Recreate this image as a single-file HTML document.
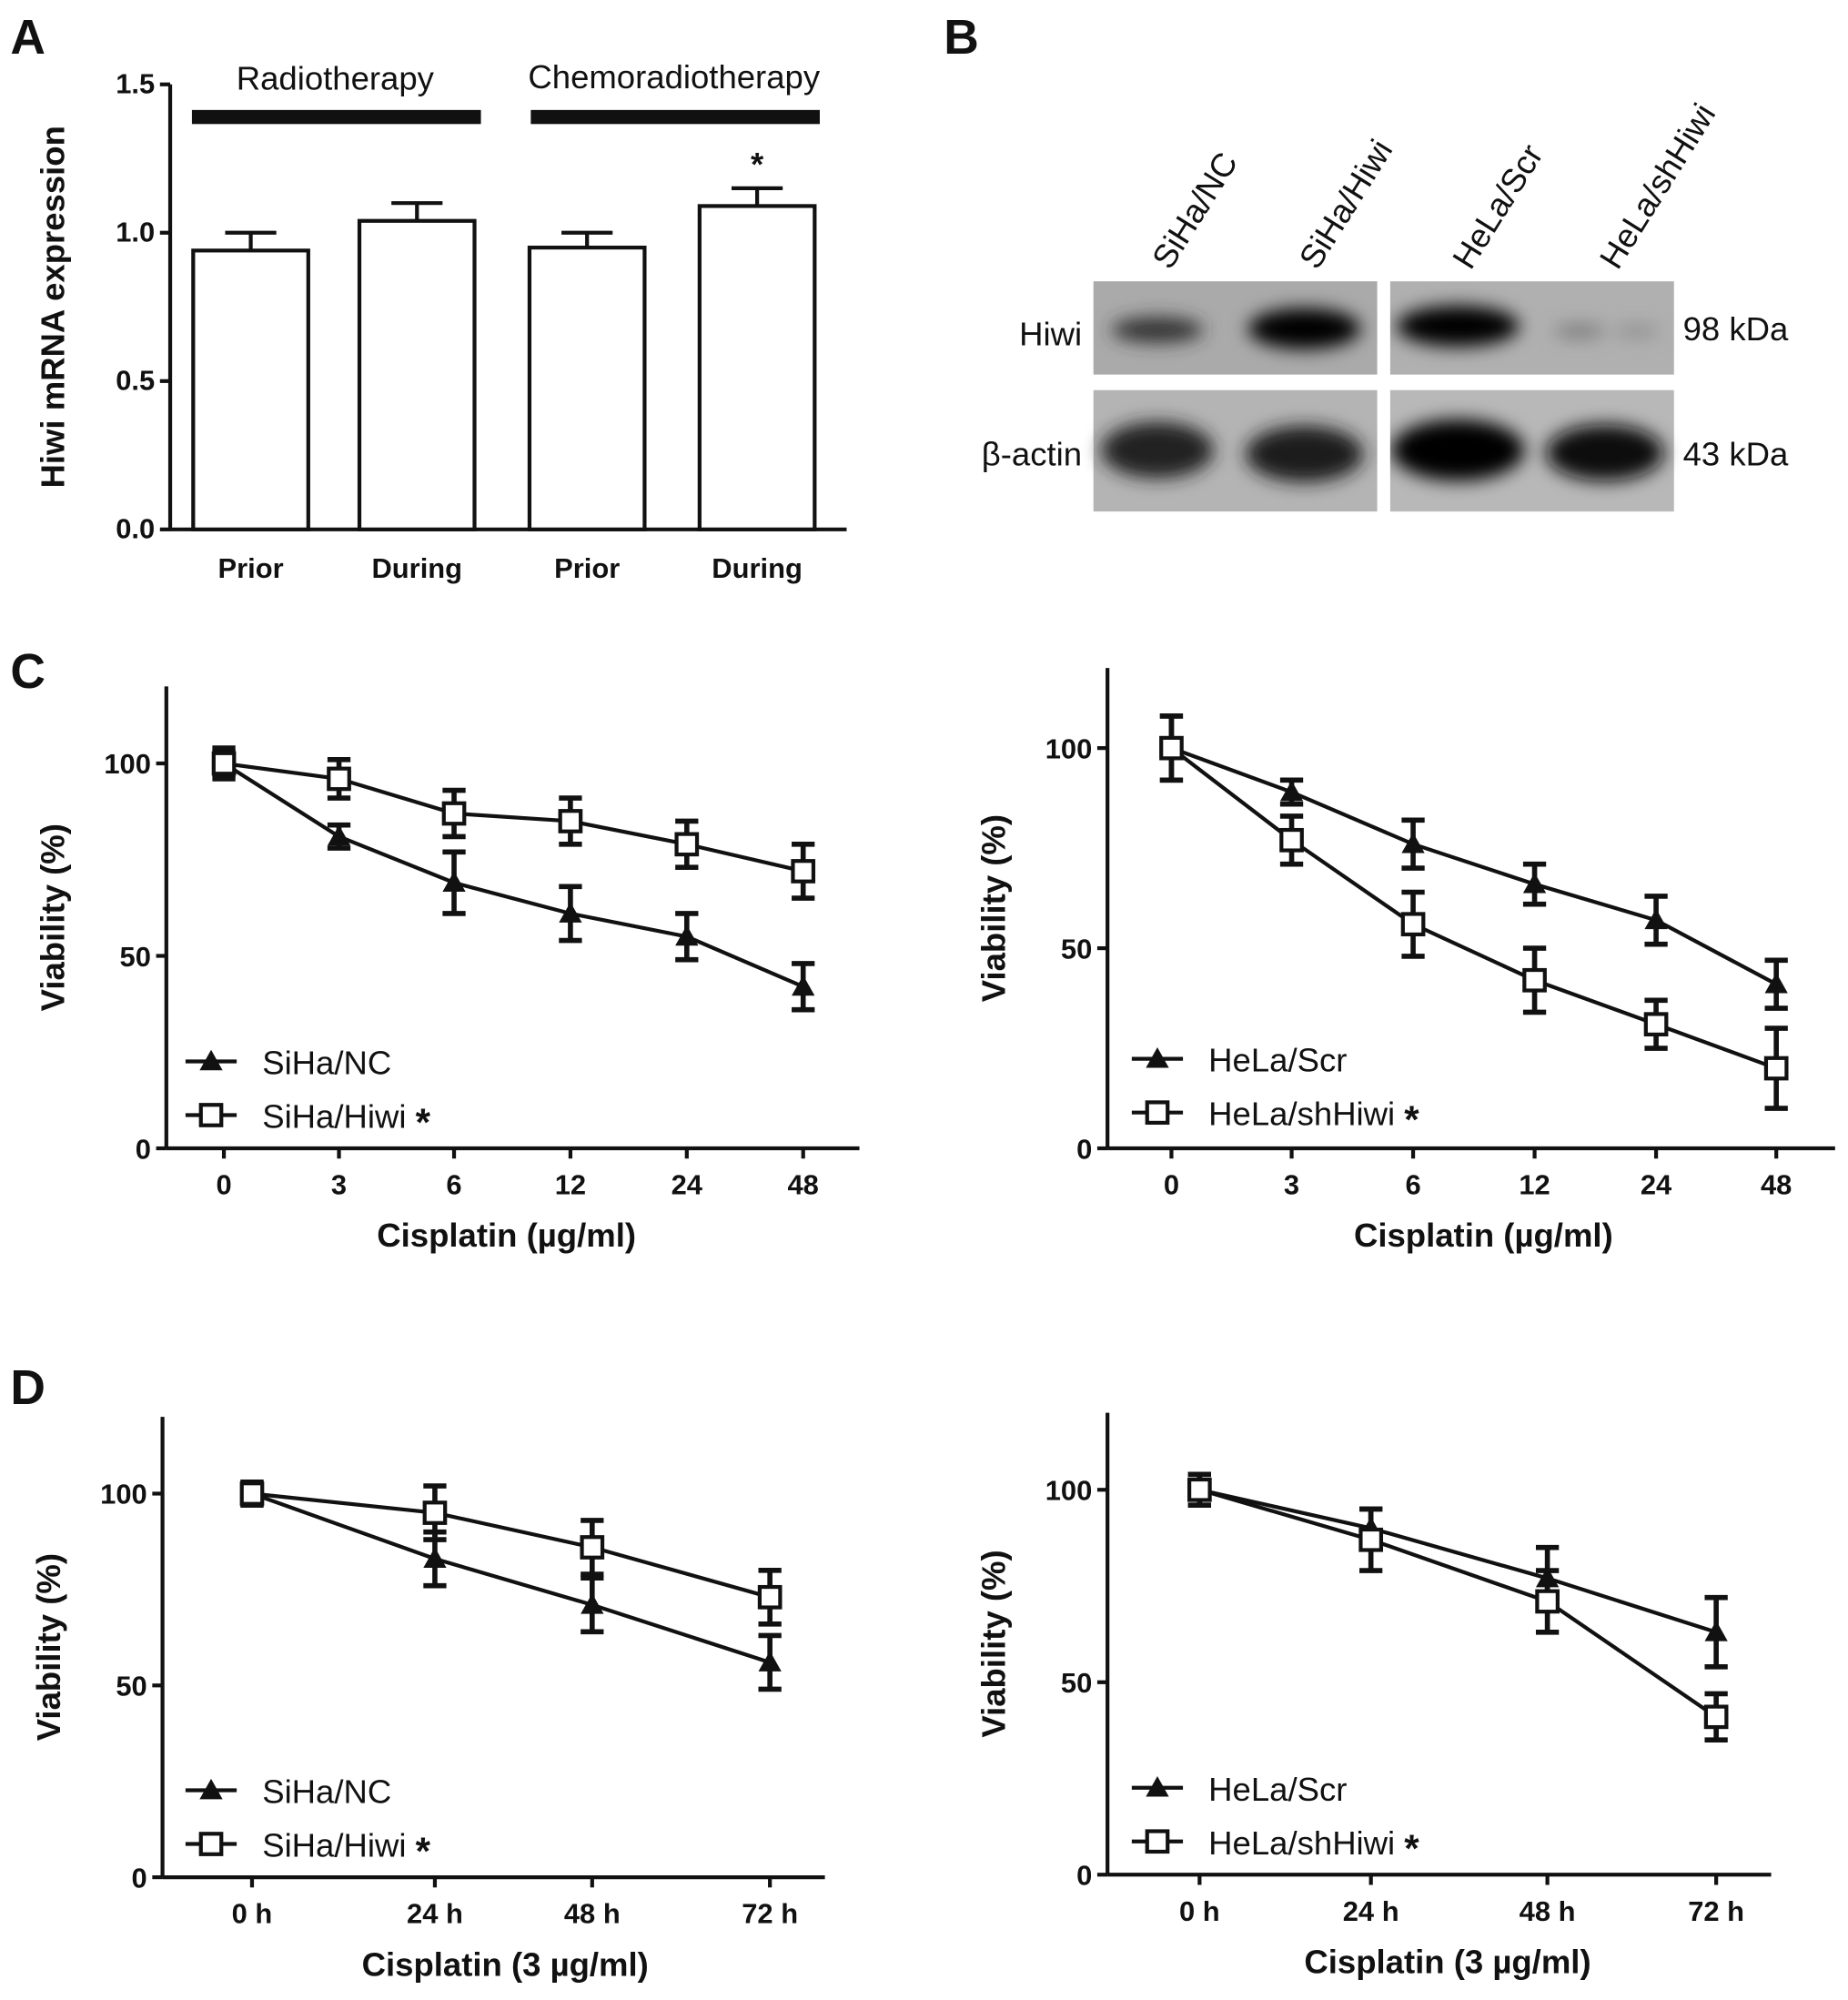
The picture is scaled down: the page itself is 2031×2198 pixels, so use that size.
<!DOCTYPE html>
<html><head><meta charset="utf-8"><style>
html,body{margin:0;padding:0;background:#fff}
svg{display:block}
text{font-family:"Liberation Sans",Arial,sans-serif;fill:#111}
.tk{font-size:22px;font-weight:bold}
.ti{font-size:26px;font-weight:bold}
.lg{font-size:26px}
.pl{font-size:38px;font-weight:bold}
</style></head><body>
<svg id="fig" width="2031" height="2198" viewBox="0 0 1445 1564" xmlns="http://www.w3.org/2000/svg">
<defs>
<filter id="blur" x="-50%" y="-50%" width="200%" height="200%"><feGaussianBlur stdDeviation="7"/></filter>
</defs>
<text class="pl" x="8" y="42">A</text>
<text class="pl" x="738" y="42">B</text>
<text class="pl" x="8" y="538">C</text>
<text class="pl" x="8" y="1098">D</text>
<g id="panelA"></g>
<g id="panelB">
  <rect x="855" y="220" width="222" height="73" fill="#aaaaaa"/>
  <rect x="1087" y="220" width="222" height="73" fill="#b0b0b0"/>
  <rect x="855" y="305" width="222" height="95" fill="#b4b4b4"/>
  <rect x="1087" y="305" width="222" height="95" fill="#b8b8b8"/>
  <g filter="url(#blur)">
    <ellipse cx="905" cy="258" rx="36" ry="10" fill="#333"/>
    <ellipse cx="1020" cy="257" rx="44" ry="16" fill="#000"/>
    <ellipse cx="1140" cy="255" rx="48" ry="16" fill="#000"/>
    <ellipse cx="1235" cy="259" rx="20" ry="5" fill="#777"/>
    <ellipse cx="1280" cy="259" rx="18" ry="4" fill="#888"/>
    <ellipse cx="905" cy="352" rx="44" ry="22" fill="#222"/>
    <ellipse cx="1020" cy="355" rx="46" ry="22" fill="#1a1a1a"/>
    <ellipse cx="1140" cy="352" rx="52" ry="24" fill="#000"/>
    <ellipse cx="1255" cy="354" rx="46" ry="22" fill="#111"/>
  </g>
  <rect x="1077" y="215" width="10" height="190" fill="#fff"/>
  <rect x="850" y="293" width="465" height="12" fill="#fff"/>
  <text class="lg" x="846" y="270" text-anchor="end">Hiwi</text>
  <text class="lg" x="846" y="364" text-anchor="end">β-actin</text>
  <text class="lg" x="1316" y="266">98 kDa</text>
  <text class="lg" x="1316" y="364">43 kDa</text>
  <text class="lg" transform="translate(915,212) rotate(-58)">SiHa/NC</text>
  <text class="lg" transform="translate(1030,212) rotate(-58)">SiHa/Hiwi</text>
  <text class="lg" transform="translate(1150,212) rotate(-58)">HeLa/Scr</text>
  <text class="lg" transform="translate(1265,212) rotate(-58)">HeLa/shHiwi</text>
</g>
<g id="c1"></g>
<g id="c2"></g>
<g id="d1"></g>
<g id="d2"></g>
</svg>
<script>
// Panel A data
const aCategories = ["Prior","During","Prior","During"];
const aValues = [0.94, 1.04, 0.95, 1.09];
const aErrors = [0.06, 0.06, 0.05, 0.06];
const aTicks = [0, 0.5, 1.0, 1.5];
const aTickLabels = ["0.0","0.5","1.0","1.5"];
// Panel C data
const cDoses = ["0","3","6","12","24","48"];
const cSihaNC = [100, 81, 69, 61, 55, 42];
const cSihaNCErr = [3, 3, 8, 7, 6, 6];
const cSihaHiwi = [100, 96, 87, 85, 79, 72];
const cSihaHiwiErr = [4, 5, 6, 6, 6, 7];
const cHelaScr = [100, 89, 76, 66, 57, 41];
const cHelaScrErr = [8, 3, 6, 5, 6, 6];
const cHelaSh = [100, 77, 56, 42, 31, 20];
const cHelaShErr = [8, 6, 8, 8, 6, 10];
// Panel D data
const dTimes = ["0 h","24 h","48 h","72 h"];
const dSihaNC = [100, 83, 71, 56];
const dSihaNCErr = [3, 7, 7, 7];
const dSihaHiwi = [100, 95, 86, 73];
const dSihaHiwiErr = [3, 7, 7, 7];
const dHelaScr = [100, 90, 77, 63];
const dHelaScrErr = [4, 5, 8, 9];
const dHelaSh = [100, 87, 71, 41];
const dHelaShErr = [4, 8, 8, 6];
const vTicks = [0, 50, 100];

const NS="http://www.w3.org/2000/svg";
function mk(parent, tag, attrs, txt){
  const e=document.createElementNS(NS,tag);
  for(const k in attrs) e.setAttribute(k, attrs[k]);
  if(txt!==undefined) e.textContent=txt;
  parent.appendChild(e); return e;
}

// ---- Panel A ----
(function(){
  const g=document.getElementById('panelA');
  const x0=133, y0=414, yTop=66, vmax=1.5;
  const y=v=>y0-(y0-yTop)*v/vmax;
  const barX=[151,281,414,547], bw=90;
  mk(g,'line',{x1:x0,y1:yTop,x2:x0,y2:y0,stroke:'#111','stroke-width':3});
  mk(g,'line',{x1:x0,y1:y0,x2:662,y2:y0,stroke:'#111','stroke-width':3});
  aTicks.forEach((t,i)=>{
    mk(g,'line',{x1:x0-8,y1:y(t),x2:x0,y2:y(t),stroke:'#111','stroke-width':3});
    const tl=mk(g,'text',{x:x0-12,y:y(t)+7,class:'tk','text-anchor':'end'},aTickLabels[i]);
    
    
  });
  aValues.forEach((v,i)=>{
    const cx=barX[i]+bw/2;
    const eb=mk(g,'path',{d:`M${cx} ${y(v)} V${y(v+aErrors[i])} M${cx-20} ${y(v+aErrors[i])} H${cx+20}`,stroke:'#111','stroke-width':3,fill:'none'});
    
    
    const r=mk(g,'rect',{x:barX[i],y:y(v),width:bw,height:y0-y(v),fill:'#fff',stroke:'#111','stroke-width':3});
    
    
    const l=mk(g,'text',{x:cx,y:452,class:'tk','text-anchor':'middle'},aCategories[i]);
    
    
  });
  const s=mk(g,'text',{x:barX[3]+bw/2,y:y(aValues[3]+aErrors[3])-10,class:'ti','text-anchor':'middle'},'*');
  
  
  mk(g,'rect',{x:150,y:86,width:226,height:11,fill:'#111'});
  mk(g,'rect',{x:415,y:86,width:226,height:11,fill:'#111'});
  const t1=mk(g,'text',{x:262,y:70,class:'lg','text-anchor':'middle'},'Radiotherapy');
  
  
  const t2=mk(g,'text',{x:527,y:69,class:'lg','text-anchor':'middle'},'Chemoradiotherapy');
  
  
  const yt=mk(g,'text',{transform:'translate(50,240) rotate(-90)',class:'ti','text-anchor':'middle'},'Hiwi  mRNA  expression');
  
  
})();

// ---- Line charts ----
function tri(g,x,y){return mk(g,'path',{d:`M${x} ${y-9} L${x+9} ${y+7} L${x-9} ${y+7} Z`,fill:'#111'});}
function sq(g,x,y){return mk(g,'rect',{x:x-8,y:y-8,width:16,height:16,fill:'#fff',stroke:'#111','stroke-width':3});}
function lineChart(id,cfg){
  const g=document.getElementById(id);
  const y=v=>cfg.y0-(cfg.y0-cfg.y100)*v/100;
  const top=y(120);
  mk(g,'line',{x1:cfg.x0,y1:top,x2:cfg.x0,y2:cfg.y0,stroke:'#111','stroke-width':3});
  mk(g,'line',{x1:cfg.x0,y1:cfg.y0,x2:cfg.xEnd,y2:cfg.y0,stroke:'#111','stroke-width':3});
  vTicks.forEach(t=>{
    mk(g,'line',{x1:cfg.x0-8,y1:y(t),x2:cfg.x0,y2:y(t),stroke:'#111','stroke-width':3});
    const tl=mk(g,'text',{x:cfg.x0-12,y:y(t)+8,class:'tk','text-anchor':'end'},String(t));
    
    
  });
  cfg.cats.forEach((c,i)=>{
    const x=cfg.xs[i];
    mk(g,'line',{x1:x,y1:cfg.y0,x2:x,y2:cfg.y0+8,stroke:'#111','stroke-width':3});
    const tl=mk(g,'text',{x:x,y:cfg.y0+36,class:'tk','text-anchor':'middle'},c);
    
    
  });
  const xt=mk(g,'text',{x:cfg.titleX,y:cfg.y0+77,class:'ti','text-anchor':'middle'},cfg.xTitle);
  
  
  const yt=mk(g,'text',{transform:`translate(${cfg.x0-80},${y(60)}) rotate(-90)`,class:'ti','text-anchor':'middle'},'Viability (%)');
  
  
  cfg.series.forEach(s=>{
    const pts=s.vals.map((v,i)=>cfg.xs[i]+','+y(v)).join(' ');
    const pl=mk(g,'polyline',{points:pts,fill:'none',stroke:'#111','stroke-width':3});
    
    
    s.vals.forEach((v,i)=>{
      const x=cfg.xs[i],e=s.err[i];
      const eb=mk(g,'path',{d:`M${x} ${y(v-e)} V${y(v+e)} M${x-9} ${y(v-e)} H${x+9} M${x-9} ${y(v+e)} H${x+9}`,stroke:'#111','stroke-width':4,fill:'none'});
      
      
      const m=s.kind==='tri'?tri(g,x,y(v)):sq(g,x,y(v));
      
      
    });
  });
  cfg.series.forEach((s,i)=>{
    const ly=cfg.legY+i*42, lx=cfg.legX;
    mk(g,'line',{x1:lx,y1:ly,x2:lx+40,y2:ly,stroke:'#111','stroke-width':3});
    if(s.kind==='tri') tri(g,lx+20,ly); else sq(g,lx+20,ly);
    const lt=mk(g,'text',{x:lx+60,y:ly+10,class:'lg'},s.label+(s.star?' ':''));
    
    
    if(s.star){mk(lt,'tspan',{'font-weight':'bold','font-size':'30','dy':'6'},'*');}
  });
}
lineChart('c1',{x0:130,y0:898,y100:597,xEnd:672,xs:[175,265,355,446,537,628],cats:cDoses,xTitle:'Cisplatin (µg/ml)',titleX:396,legX:145,legY:830,
  series:[{name:'siha-nc',label:'SiHa/NC',kind:'tri',vals:cSihaNC,err:cSihaNCErr},{name:'siha-hiwi',label:'SiHa/Hiwi',kind:'sq',star:true,vals:cSihaHiwi,err:cSihaHiwiErr}]});
lineChart('c2',{x0:866,y0:898,y100:585,xEnd:1435,xs:[916,1010,1105,1200,1295,1389],cats:cDoses,xTitle:'Cisplatin (µg/ml)',titleX:1160,legX:885,legY:828,
  series:[{name:'hela-scr',label:'HeLa/Scr',kind:'tri',vals:cHelaScr,err:cHelaScrErr},{name:'hela-shhiwi',label:'HeLa/shHiwi',kind:'sq',star:true,vals:cHelaSh,err:cHelaShErr}]});
lineChart('d1',{x0:127,y0:1468,y100:1168,xEnd:645,xs:[197,340,463,602],cats:dTimes,xTitle:'Cisplatin (3 µg/ml)',titleX:395,legX:145,legY:1400,
  series:[{name:'siha-nc',label:'SiHa/NC',kind:'tri',vals:dSihaNC,err:dSihaNCErr},{name:'siha-hiwi',label:'SiHa/Hiwi',kind:'sq',star:true,vals:dSihaHiwi,err:dSihaHiwiErr}]});
lineChart('d2',{x0:866,y0:1466,y100:1165,xEnd:1385,xs:[938,1072,1210,1342],cats:dTimes,xTitle:'Cisplatin (3 µg/ml)',titleX:1132,legX:885,legY:1398,
  series:[{name:'hela-scr',label:'HeLa/Scr',kind:'tri',vals:dHelaScr,err:dHelaScrErr},{name:'hela-shhiwi',label:'HeLa/shHiwi',kind:'sq',star:true,vals:dHelaSh,err:dHelaShErr}]});
</script>
</body></html>
